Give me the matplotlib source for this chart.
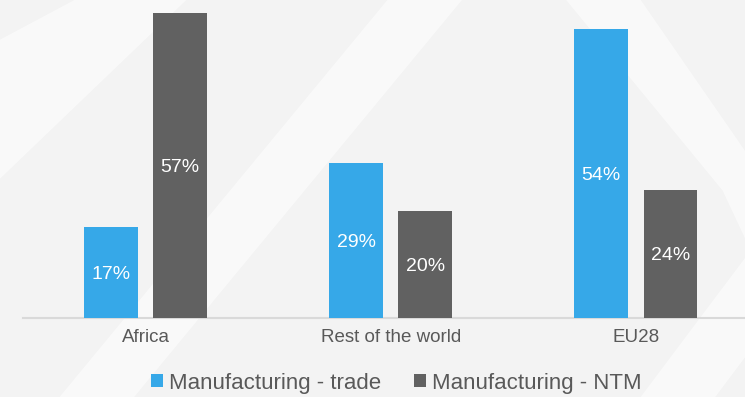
import numpy as np
import matplotlib
matplotlib.use('Agg')
import matplotlib.pyplot as plt
import matplotlib.patches as pat

categories = ['Africa', 'Rest of the world', 'EU28']
trade = [17, 29, 54]
ntm = [57, 20, 24]
series_names = ['Manufacturing - trade', 'Manufacturing - NTM']

blue = '#36a8e8'
dark = '#616161'

plt.rcParams['font.family'] = ['Liberation Sans', 'DejaVu Sans']

fig = plt.figure(figsize=(7.45, 3.97), dpi=100)
fig.patch.set_facecolor('#f3f3f3')

# soft white chevron bands in the background
bands = [
    [(0.08, 0.0), (0.18, 0.0), (0.62, 1.0), (0.52, 1.0)],
    [(0.76, 1.0), (0.86, 1.0), (1.0, 0.62), (1.0, 0.40), (0.97, 0.52)],
    [(0.86, 0.0), (0.96, 0.0), (1.0, 0.10), (1.0, 0.35)],
    [(0.0, 0.55), (0.0, 0.9), (0.1, 1.0), (0.25, 1.0)],
]
for b in bands:
    fig.patches.append(pat.Polygon(b, closed=True, transform=fig.transFigure,
                                   fc='white', ec='none', alpha=0.55, zorder=-5))

ax = fig.add_axes([23 / 745, 79 / 397, 735.5 / 745, 315.6 / 397])
ax.patch.set_alpha(0)

x = np.arange(len(categories))
w = 0.22
off = 0.141
b1 = ax.bar(x - off, trade, w, color=blue, label=series_names[0], zorder=3)
b2 = ax.bar(x + off, ntm, w, color=dark, label=series_names[1], zorder=3)

for bars, vals in ((b1, trade), (b2, ntm)):
    for r, v in zip(bars, vals):
        ax.text(r.get_x() + r.get_width() / 2, v / 2, '%d%%' % v,
                ha='center', va='center_baseline', color='white', fontsize=14, zorder=4)

ax.set_xlim(-0.5, 2.5)
ax.set_ylim(0, 59)
ax.set_yticks([])
ax.set_xticks(x)
ax.set_xticklabels(categories, fontsize=13.5, color='#595959')
ax.tick_params(axis='x', length=0, pad=8)
for s in ('top', 'right', 'left'):
    ax.spines[s].set_visible(False)
ax.spines['bottom'].set_color('#d9d9d9')
ax.spines['bottom'].set_linewidth(1.5)

leg = fig.legend(handles=[b1, b2], loc='center', bbox_to_anchor=(0.532, 0.035),
                 ncol=2, frameon=False, fontsize=16, handlelength=0.55,
                 handleheight=0.55, handletextpad=0.25, columnspacing=1.5)
for t in leg.get_texts():
    t.set_color('#595959')

plt.savefig('out.png', dpi=100, facecolor=fig.get_facecolor())
